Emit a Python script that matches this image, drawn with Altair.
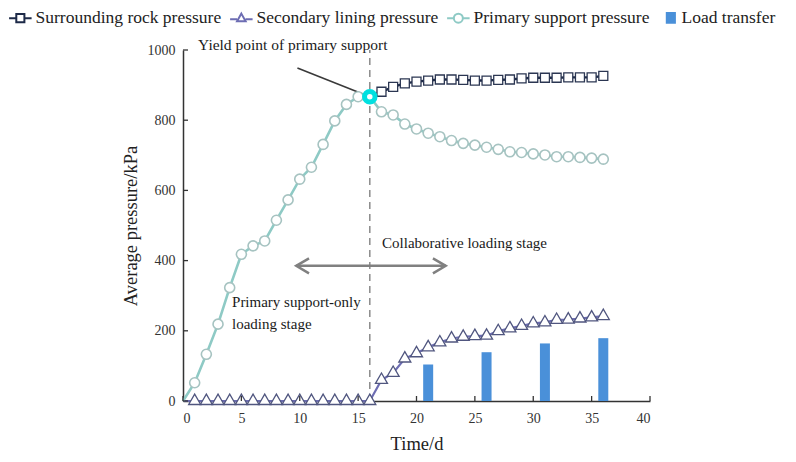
import altair as alt
import pandas as pd

# ---------------- data ----------------
days = list(range(0, 37))
primary_support = [0, 52, 133, 219, 323, 418, 442, 456, 515, 573, 632, 666, 731, 798,
                   845, 867, 867, 824, 815, 789, 775, 763, 753, 742, 734, 729, 723, 717,
                   710, 708, 704, 701, 696, 696, 694, 692, 689]
rock_days = list(range(16, 37))
surrounding_rock = [867, 881, 895, 905, 910, 913, 916, 916, 915, 913, 913, 915, 916,
                    919, 921, 921, 921, 922, 922, 922, 926]
secondary_lining = [0] * 17 + [60, 80, 121, 136, 153, 167, 178, 183, 185, 186, 199,
                               207, 214, 221, 224, 231, 232, 235, 238, 242]
transfer_days = [21, 26, 31, 36]
load_transfer = [104, 139, 164, 179]

x_ticks = [0, 5, 10, 15, 20, 25, 30, 35, 40]
y_ticks = [0, 200, 400, 600, 800, 1000]

series_names = ["Surrounding rock pressure", "Secondary lining pressure",
                "Primary support pressure", "Load transfer"]

yield_day = [16]
yield_value = [867]
stage_day = [16]
leader_from = [9.8, 949]
arrow_span = [9.7, 22.5]
arrow_level = [385]

FONT = "Liberation Serif"
C_ROCK = "#1d2a48"
C_ROCK_M = "#2b3652"
C_SEC = "#6d6db3"
C_SEC_M = "#50567f"
C_PRI = "#8ecac5"
C_PRI_M = "#a6c3c1"
C_BAR = "#4a90d9"
C_GREY = "#808080"

X = alt.X("day:Q", scale=alt.Scale(domain=[0, 40], nice=False, padding=0),
          axis=alt.Axis(values=x_ticks, title="Time/d", format="d"))
Y = alt.Y("p:Q", scale=alt.Scale(domain=[0, 1000], nice=False, padding=0),
          axis=alt.Axis(values=y_ticks, title="Average pressure/kPa", format="d"))

df_pri = pd.DataFrame({"day": days, "p": primary_support})
df_sec = pd.DataFrame({"day": days, "p": secondary_lining})
df_rock = pd.DataFrame({"day": rock_days, "p": surrounding_rock})
df_bar = pd.DataFrame({"day": transfer_days, "p": load_transfer})

bars = alt.Chart(df_bar).mark_bar(size=10, color=C_BAR).encode(X, Y)

dash = alt.Chart(pd.DataFrame({"day": stage_day, "p": [0], "p2": [1000]})).mark_rule(
    color="#8a8a8a", strokeDash=[7, 5], strokeWidth=1.5).encode(X, Y, y2="p2:Q")

line_sec = alt.Chart(df_sec).mark_line(color=C_SEC, strokeWidth=2.2).encode(X, Y)
line_pri = alt.Chart(df_pri).mark_line(color=C_PRI, strokeWidth=2.6).encode(X, Y)
line_rock = alt.Chart(df_rock).mark_line(color=C_ROCK, strokeWidth=2.4).encode(X, Y)

tri_path = "M0,-1.15L1,0.58H-1Z"
pts_sec = alt.Chart(df_sec).transform_filter("datum.day > 0").mark_point(
    shape=tri_path, size=144, stroke=C_SEC_M, strokeWidth=1.3, fill="white",
    opacity=1, fillOpacity=1).encode(X, Y)
pts_pri = alt.Chart(df_pri).transform_filter("datum.day > 0").mark_point(
    shape="circle", size=100, stroke=C_PRI_M, strokeWidth=1.6, fill="white",
    opacity=1, fillOpacity=1).encode(X, Y)
pts_rock = alt.Chart(df_rock).transform_filter("datum.day > 16").mark_point(
    shape="square", size=81, stroke=C_ROCK_M, strokeWidth=1.3, fill="white",
    opacity=1, fillOpacity=1).encode(X, Y)

leader = alt.Chart(pd.DataFrame({"day": [leader_from[0]], "p": [leader_from[1]],
                                 "day2": yield_day, "p2": yield_value})).mark_rule(
    color="#3a3a3a", strokeWidth=1.6).encode(X, Y, x2="day2:Q", y2="p2:Q")

yield_pt = alt.Chart(pd.DataFrame({"day": yield_day, "p": yield_value})).mark_point(
    shape="circle", size=110, stroke="#00e0e0", strokeWidth=5, fill="white",
    opacity=1, fillOpacity=1).encode(X, Y)

arrow = alt.Chart(pd.DataFrame({"day": [arrow_span[0]], "day2": [arrow_span[1]],
                                "p": arrow_level})).mark_rule(
    color=C_GREY, strokeWidth=2.5).encode(X, Y, x2="day2:Q")
head_l = alt.Chart(pd.DataFrame({"day": [arrow_span[0]], "p": arrow_level})).mark_point(
    shape="M1.7,-1L0,0L1.7,1", size=225, filled=False, stroke=C_GREY, strokeWidth=2.5,
    opacity=1).encode(X, Y)
head_r = alt.Chart(pd.DataFrame({"day": [arrow_span[1]], "p": arrow_level})).mark_point(
    shape="M-1.7,-1L0,0L-1.7,1", size=225, filled=False, stroke=C_GREY, strokeWidth=2.5,
    opacity=1).encode(X, Y)

notes = pd.DataFrame({
    "day": [9.4, 17.05, 4.2, 4.2],
    "p": [1014, 450, 282, 219],
    "txt": ["Yield point of primary support", "Collaborative loading stage",
            "Primary support-only", "loading stage"],
    "al": ["center", "left", "left", "left"],
})
txt_c = alt.Chart(notes[notes.al == "center"]).mark_text(
    align="center", baseline="middle", font=FONT, fontSize=15.5, color="#1a1a1a").encode(
    X, Y, text="txt:N")
txt_l = alt.Chart(notes[notes.al == "left"]).mark_text(
    align="left", baseline="middle", font=FONT, fontSize=15, color="#1a1a1a").encode(
    X, Y, text="txt:N")

# inward tick marks
yt = alt.Chart(pd.DataFrame({"p": y_ticks})).mark_rule(color="#333333", strokeWidth=1.3).encode(
    x=alt.value(0), x2=alt.value(5), y=Y)
xt = alt.Chart(pd.DataFrame({"day": x_ticks})).mark_rule(color="#333333", strokeWidth=1.3).encode(
    x=X, y=alt.value(351), y2=alt.value(346))

# legend (symbols drawn to the right of their anchor)
leg_paths = [
    "M-1.7,0H-0.1M1.7,0H3.3M-0.1,-0.9H1.7V0.9H-0.1Z",
    "M-1.7,0.25H-0.15M1.75,0.25H3.3M0.8,-1L1.75,0.7H-0.15Z",
    "M-1.7,0H-0.2M1.8,0H3.3M1.8,0A1,1,0,1,1,-0.2,0A1,1,0,1,1,1.8,0Z",
    "M0.9,-1.1H2.7V1.1H0.9Z",
]
leg_strokes = [C_ROCK, C_SEC, C_PRI, C_BAR]
leg_fills = ["white", "white", "white", C_BAR]
LEG = alt.Legend(title=None, orient="none", legendX=-175, legendY=-41,
                 direction="horizontal")
df_leg = pd.DataFrame({"series": series_names, "day": [0] * 4, "p": [0] * 4})
legend_layer = alt.Chart(df_leg).mark_point(opacity=0).encode(
    X, Y,
    shape=alt.Shape("series:N", scale=alt.Scale(domain=series_names, range=leg_paths), legend=LEG),
    stroke=alt.Stroke("series:N", scale=alt.Scale(domain=series_names, range=leg_strokes), legend=LEG),
    fill=alt.Fill("series:N", scale=alt.Scale(domain=series_names, range=leg_fills), legend=LEG),
)

chart = alt.layer(
    legend_layer, bars, dash, line_sec, line_pri, line_rock, leader,
    pts_sec, pts_pri, pts_rock, yield_pt, arrow, head_l, head_r, txt_c, txt_l, yt, xt
).properties(
    width=467, height=351,
    padding={"left": 175, "top": 42, "right": 138, "bottom": 53},
    autosize=alt.AutoSizeParams(type="none"),
).configure_view(stroke=None).configure_axis(
    grid=False, domainColor="#333333", domainWidth=1.5, tickSize=0,
    labelFont=FONT, labelFontSize=14, labelColor="#333333",
    titleFont=FONT, titleFontSize=18.5, titleFontWeight="normal", titleColor="#222222",
).configure_axisX(labelPadding=10, titlePadding=9).configure_axisY(
    labelPadding=8, titlePadding=7).configure_legend(
    labelFont=FONT, labelFontSize=17.5, labelColor="#222222", symbolSize=81,
    symbolStrokeWidth=2, symbolOpacity=1, labelOffset=10, symbolOffset=0,
    columnPadding=4, padding=0, labelLimit=500)

chart.save("out.html", embed_options={"renderer": "svg", "actions": False})
